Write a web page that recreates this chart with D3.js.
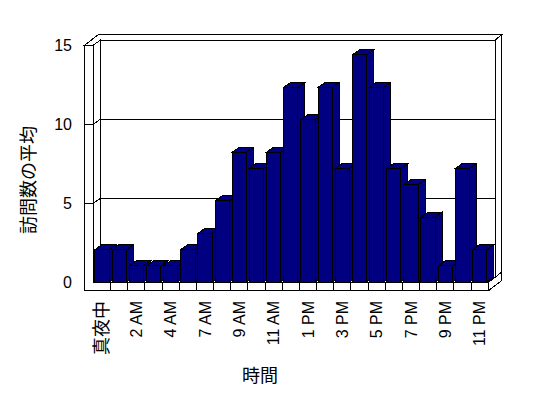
<!DOCTYPE html>
<html>
<head>
<meta charset="utf-8">
<script src="https://cdn.jsdelivr.net/npm/d3@7"></script>
<style>
  body { margin: 0; background: #fff; }
  svg { display: block; }
  text { font-family: "Liberation Sans", Arial, "Noto Sans CJK JP", sans-serif; font-size: 16px; fill: #000; }
  .cjk { font-family: "Noto Sans CJK JP", sans-serif; font-size: 18px; }
</style>
</head>
<body>
<svg id="chart" width="548" height="398"></svg>
<script>
// hours shown on the category axis (one early hour has no data)
const categories = ["真夜中", "1 AM", "2 AM", "3 AM", "4 AM", "6 AM", "7 AM", "8 AM", "9 AM", "10 AM", "11 AM", "正午",
  "1 PM", "2 PM", "3 PM", "4 PM", "5 PM", "6 PM", "7 PM", "8 PM", "9 PM", "10 PM", "11 PM"];
const values = [2, 2, 1, 1, 1, 2, 3, 5, 8, 7, 8, 12, 10, 12, 7, 14, 12, 7, 6, 4, 1, 7, 2];
const yTicks = [0, 5, 10, 15];
const yTitle = "訪問数の平均";
const xTitle = "時間";

const svg = d3.select('#chart').attr('shape-rendering', 'crispEdges');

// front plane of the plot box
const FX0 = 93.5, FX1 = 488.2, FY0 = 282.3, FYT = 45;
const T = 8.6;            // wall thickness (front faces)
const DX = 7, DY = -5;    // depth of the plot
const TDX = 6.6, TDY = -5.5; // depth of the wall thickness

const x = d3.scaleBand().domain(categories).range([FX0, FX1]).paddingInner(0.167).paddingOuter(0.0835);
const slot = d3.scaleBand().domain(categories).range([FX0, FX1]);
const yWall = d3.scaleLinear().domain([0, 15]).range([FY0, FYT]);
const yBar = d3.scaleLinear().domain([0, 15]).range([282, 38.7]);

const poly = pts => 'M' + pts.map(p => p.join(',')).join('L') + 'Z';
const frame = svg.append('g').attr('fill', '#fff').attr('stroke', '#000');

// back wall front face
frame.append('rect')
  .attr('x', FX0 + DX).attr('y', FYT + DY)
  .attr('width', FX1 - FX0).attr('height', FY0 - FYT);

// top of left + back wall
frame.append('path').attr('d', poly([
  [FX0 - T, FYT], [FX0 - T + DX + TDX, FYT + DY + TDY], [FX1 + DX + TDX, FYT + DY + TDY],
  [FX1 + DX, FYT + DY], [FX0 + DX, FYT + DY], [FX0, FYT]
]));

// floor right face
frame.append('path').attr('d', poly([
  [FX1, FY0], [FX1, FY0 + T], [FX1 + DX + TDX, FY0 + T + DY + TDY], [FX1 + DX + TDX, FY0 + DY + TDY]
]));

// back wall right face
frame.append('path').attr('d', poly([
  [FX1 + DX, FYT + DY], [FX1 + DX + TDX, FYT + DY + TDY], [FX1 + DX + TDX, FY0 + DY + TDY], [FX1 + DX, FY0 + DY]
]));

// floor top
frame.append('path').attr('d', poly([
  [FX0, FY0], [FX1, FY0], [FX1 + DX, FY0 + DY], [FX0 + DX, FY0 + DY]
]));

// left wall inner face
frame.append('path').attr('d', poly([
  [FX0, FYT], [FX0 + DX, FYT + DY], [FX0 + DX, FY0 + DY], [FX0, FY0]
]));

// left wall + floor front faces
frame.append('path').attr('d', poly([
  [FX0 - T, FYT], [FX0, FYT], [FX0, FY0], [FX1, FY0], [FX1, FY0 + T], [FX0 - T, FY0 + T]
]));

// floor dividers
frame.selectAll('.div')
  .data(categories.slice(1))
  .enter().append('line')
  .attr('x1', d => slot(d)).attr('x2', d => slot(d))
  .attr('y1', FY0).attr('y2', FY0 + T);

// gridlines
const grid = yTicks.filter(v => v > 0 && v < 15);
frame.selectAll('.tick-front')
  .data(grid).enter().append('line')
  .attr('x1', FX0 - T).attr('x2', FX0)
  .attr('y1', d => yWall(d)).attr('y2', d => yWall(d));
frame.selectAll('.tick-side')
  .data(grid).enter().append('line')
  .attr('x1', FX0).attr('x2', FX0 + DX)
  .attr('y1', d => yWall(d)).attr('y2', d => yWall(d) + DY);
frame.selectAll('.grid')
  .data(grid).enter().append('line')
  .attr('x1', FX0 + DX).attr('x2', FX1 + DX)
  .attr('y1', d => yWall(d) + DY).attr('y2', d => yWall(d) + DY);

// bars
const bars = svg.append('g').attr('fill', '#000080').attr('stroke', '#000');
categories.forEach((c, i) => {
  const x0 = x(c), x1 = x(c) + x.bandwidth();
  const yt = yBar(values[i]), yb = yBar(0);
  const g = bars.append('g');
  g.append('path').attr('d', poly([[x1, yt], [x1 + DX, yt + DY], [x1 + DX, yb + DY], [x1, yb]]));
  g.append('path').attr('d', poly([[x0, yt], [x0 + DX, yt + DY], [x1 + DX, yt + DY], [x1, yt]]));
  g.append('rect').attr('x', x0).attr('y', yt).attr('width', x1 - x0).attr('height', yb - yt);
});

// value labels
svg.append('g').selectAll('text')
  .data(yTicks).enter().append('text')
  .attr('x', 72).attr('y', d => yWall(d))
  .attr('dy', '0.35em')
  .attr('text-anchor', 'end')
  .text(d => d);

// category labels (every other one)
svg.append('g').selectAll('text')
  .data(categories.filter((d, i) => i % 2 === 0)).enter().append('text')
  .attr('class', d => /[^\x00-\x7f]/.test(d) ? 'cjk' : null)
  .attr('transform', d => `translate(${slot(d) + slot.bandwidth() / 2},301) rotate(-90)`)
  .attr('dy', '0.35em')
  .attr('text-anchor', 'end')
  .text(d => d);

svg.append('text')
  .attr('class', 'cjk')
  .attr('transform', 'translate(28.5,180) rotate(-90)')
  .attr('dy', '0.35em')
  .attr('text-anchor', 'middle')
  .text(yTitle);

svg.append('text')
  .attr('class', 'cjk')
  .attr('x', 260).attr('y', 376)
  .attr('dy', '0.35em')
  .attr('text-anchor', 'middle')
  .text(xTitle);
</script>
</body>
</html>
